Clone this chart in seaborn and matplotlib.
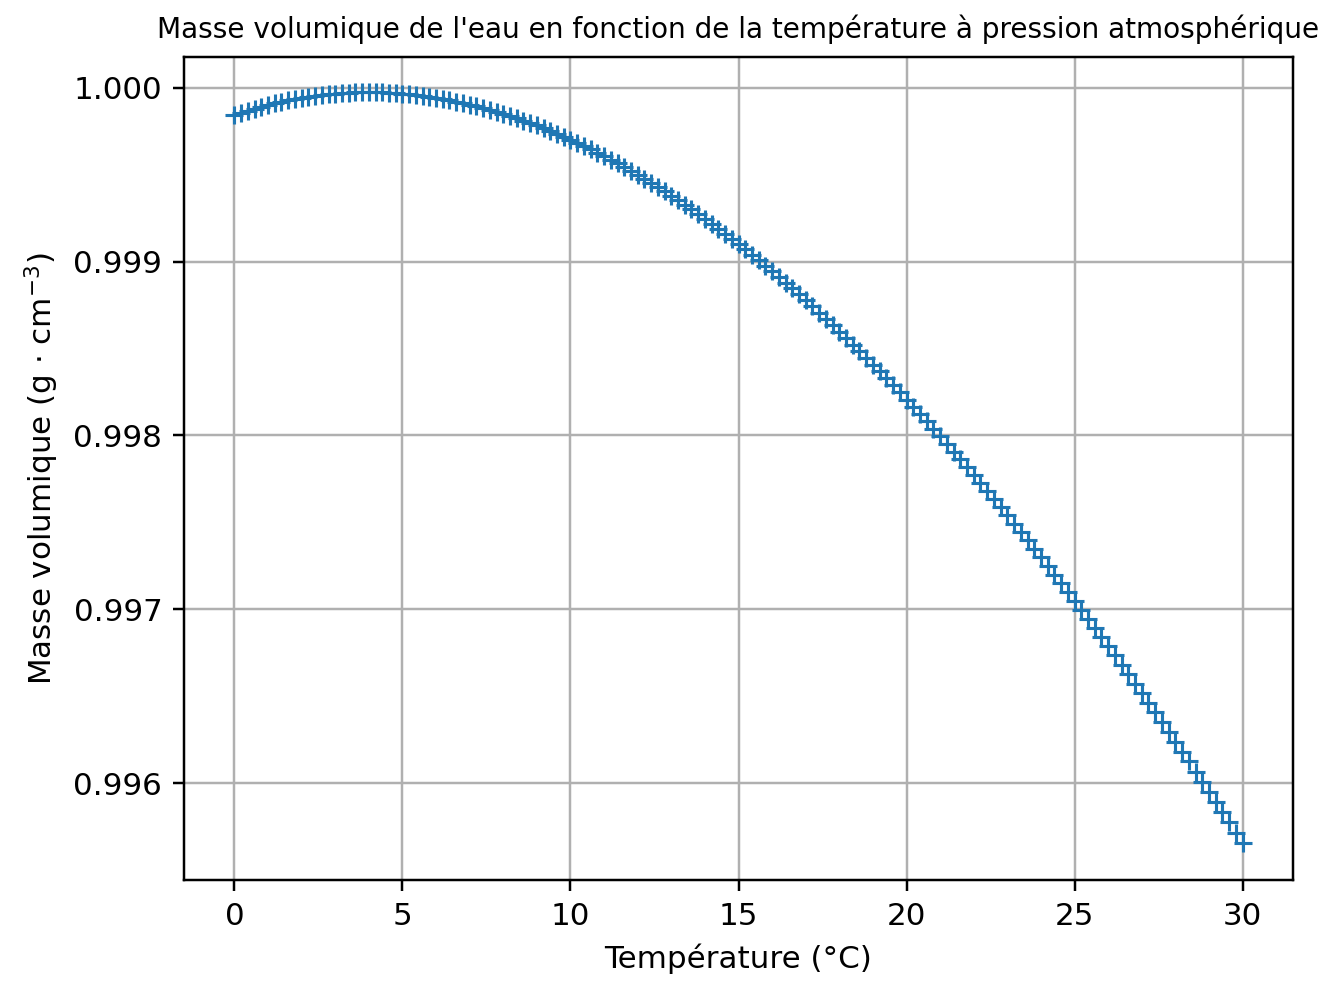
import matplotlib
matplotlib.use("Agg")
import matplotlib.pyplot as plt
import seaborn as sns
import numpy as np
import pandas as pd

temperature = [round(0.2 * i, 1) for i in range(151)]
densite = [
    0.999843, 0.999856, 0.999869, 0.999881, 0.999892,
    0.999902, 0.999912, 0.999920, 0.999929, 0.999936,
    0.999943, 0.999949, 0.999955, 0.999959, 0.999964,
    0.999967, 0.999970, 0.999972, 0.999974, 0.999975,
    0.999975, 0.999975, 0.999974, 0.999972, 0.999970,
    0.999967, 0.999963, 0.999959, 0.999954, 0.999949,
    0.999943, 0.999936, 0.999929, 0.999921, 0.999913,
    0.999904, 0.999894, 0.999884, 0.999874, 0.999863,
    0.999851, 0.999839, 0.999826, 0.999812, 0.999798,
    0.999784, 0.999769, 0.999753, 0.999736, 0.999719,
    0.999702, 0.999684, 0.999666, 0.999647, 0.999628,
    0.999608, 0.999587, 0.999566, 0.999545, 0.999523,
    0.999500, 0.999477, 0.999453, 0.999429, 0.999405,
    0.999380, 0.999354, 0.999328, 0.999302, 0.999275,
    0.999247, 0.999219, 0.999191, 0.999162, 0.999133,
    0.999103, 0.999072, 0.999041, 0.999010, 0.998978,
    0.998946, 0.998913, 0.998880, 0.998846, 0.998812,
    0.998778, 0.998743, 0.998707, 0.998671, 0.998635,
    0.998598, 0.998561, 0.998523, 0.998485, 0.998447,
    0.998408, 0.998369, 0.998329, 0.998289, 0.998248,
    0.998207, 0.998165, 0.998123, 0.998081, 0.998038,
    0.997995, 0.997951, 0.997907, 0.997863, 0.997818,
    0.997773, 0.997727, 0.997681, 0.997635, 0.997588,
    0.997541, 0.997493, 0.997445, 0.997397, 0.997348,
    0.997299, 0.997250, 0.997200, 0.997150, 0.997099,
    0.997048, 0.996997, 0.996945, 0.996892, 0.996840,
    0.996787, 0.996734, 0.996680, 0.996626, 0.996572,
    0.996517, 0.996462, 0.996406, 0.996351, 0.996294,
    0.996238, 0.996181, 0.996124, 0.996066, 0.996008,
    0.995950, 0.995891, 0.995833, 0.995774, 0.995714,
    0.995654,
]

titre = "Masse volumique de l'eau en fonction de la température à pression atmosphérique"
xlabel = "Température (°C)"
ylabel = r"Masse volumique (g $\cdot$ cm$^{-3}$)"

df = pd.DataFrame({"T": temperature, "rho": densite})

DPI = 223
fig = plt.figure(figsize=(1334 / DPI, 991 / DPI), dpi=DPI)
ax = fig.add_axes([184 / 1334, 1 - 880 / 991, (1293 - 184) / 1334, (880 - 57) / 991])

sns.lineplot(data=df, x="T", y="rho", ax=ax, marker="+", linestyle="",
             markersize=6, markeredgewidth=1.0, color="#1f77b4",
             markeredgecolor="#1f77b4", markerfacecolor="#1f77b4")

ax.set_title(titre, fontsize=9.05)
ax.set_xlabel(xlabel)
ax.set_ylabel(ylabel)
ax.set_ylim(0.995442, 1.000178)
ax.set_yticks([0.996, 0.997, 0.998, 0.999, 1.000])
ax.set_yticklabels(["0.996", "0.997", "0.998", "0.999", "1.000"])
ax.set_xticks([0, 5, 10, 15, 20, 25, 30])
ax.grid(True)

fig.savefig("out.png", dpi=DPI)
